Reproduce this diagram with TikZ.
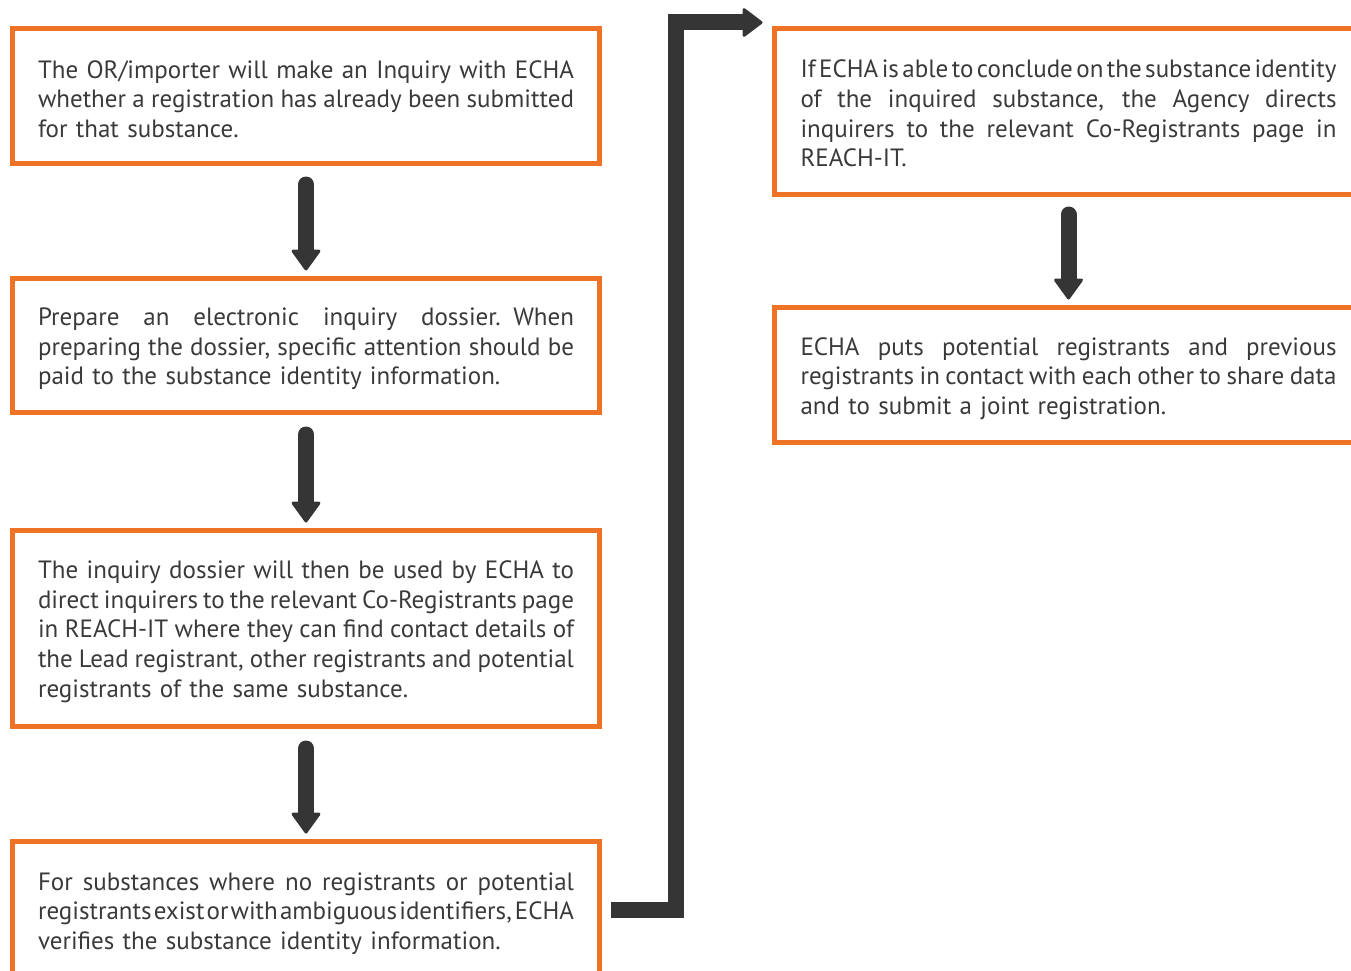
\documentclass[tikz,border=0pt]{standalone}
\usepackage{fontspec}
\setmainfont{PT Sans}
\usetikzlibrary{arrows.meta}
\definecolor{orng}{HTML}{EE7326}
\definecolor{ink}{HTML}{3A3A3A}
\definecolor{arr}{HTML}{353535}
\newlength\linew
\setlength\linew{536pt}
\newcommand\jline[1]{\hbox to \linew{\spaceskip=0.26em plus 1fil minus 0.26em\relax #1}}
\newcommand\lastline[1]{\hbox to \linew{#1\hfil}}
\newcommand\textblock[2]{\vbox{\kern#1\relax #2}}
\tikzset{
  box/.style={draw=orng, line width=5pt, inner sep=0pt, outer sep=0pt,
    minimum width=587pt, text width=\linew, text=ink,
    font=\fontsize{25pt}{29.7pt}\selectfont},
  varrow/.style={draw=arr, line width=16pt, line cap=round,
    -{Triangle[width=31pt,length=22pt,line width=3pt,round]}},
  conn/.style={draw=arr, line width=16pt, line join=miter,
    -{Triangle[width=31pt,length=21pt,line width=3pt,round]}}
}
\begin{document}
\begin{tikzpicture}[x=1pt,y=-1pt]
\useasboundingbox (0,0) rectangle (1351,971);
\clip (0,0) rectangle (1351,971);
\node[box, minimum height=135pt] (b1) at (306,96) {\textblock{6pt}{%
\jline{The OR/importer will make an Inquiry with ECHA}
\jline{whether a registration has already been submitted}
\lastline{for that substance.}}};
\node[box, minimum height=134pt] (b2) at (306,345.5) {\textblock{7pt}{%
\jline{Prepare an electronic inquiry dossier. When}
\jline{preparing the dossier, specific attention should be}
\lastline{paid to the substance identity information.}}};
\node[box, minimum height=196pt] (b3) at (306,628.5) {\textblock{6pt}{%
\jline{The inquiry dossier will then be used by ECHA to}
\jline{direct inquirers to the relevant Co-Registrants page}
\jline{in REACH-IT where they can find contact details of}
\jline{the Lead registrant, other registrants and potential}
\lastline{registrants of the same substance.}}};
\node[box, minimum height=138pt] (b4) at (306,910.5) {\textblock{6pt}{%
\jline{For substances where no registrants or potential}
\jline{registrants exist or with ambiguous identifiers, ECHA}
\lastline{verifies the substance identity information.}}};
\node[box, minimum width=589pt, minimum height=166pt] (b5) at (1068.5,111.5) {\textblock{4pt}{%
\jline{If ECHA is able to conclude on the substance identity}
\jline{of the inquired substance, the Agency directs}
\jline{inquirers to the relevant Co-Registrants page in}
\lastline{REACH-IT.}}};
\node[box, minimum width=589pt, minimum height=135pt] (b6) at (1068.5,375) {\textblock{7pt}{%
\jline{ECHA puts potential registrants and previous}
\jline{registrants in contact with each other to share data}
\lastline{and to submit a joint registration.}}};
\draw[varrow] ([yshift=-21pt]b1.south) -- ([yshift=8pt]b2.north);
\draw[varrow] ([yshift=-22pt]b2.south) -- ([yshift=8pt]b3.north);
\draw[varrow] ([yshift=-22pt]b3.south) -- ([yshift=8pt]b4.north);
\draw[varrow] ([yshift=-20pt]b5.south) -- ([yshift=8pt]b6.north);
\draw[conn] ([xshift=11.5pt,yshift=1pt]b4.east) -- ++(65,0) |- ([xshift=-11.5pt,yshift=6pt]b5.north west);
\end{tikzpicture}
\end{document}
